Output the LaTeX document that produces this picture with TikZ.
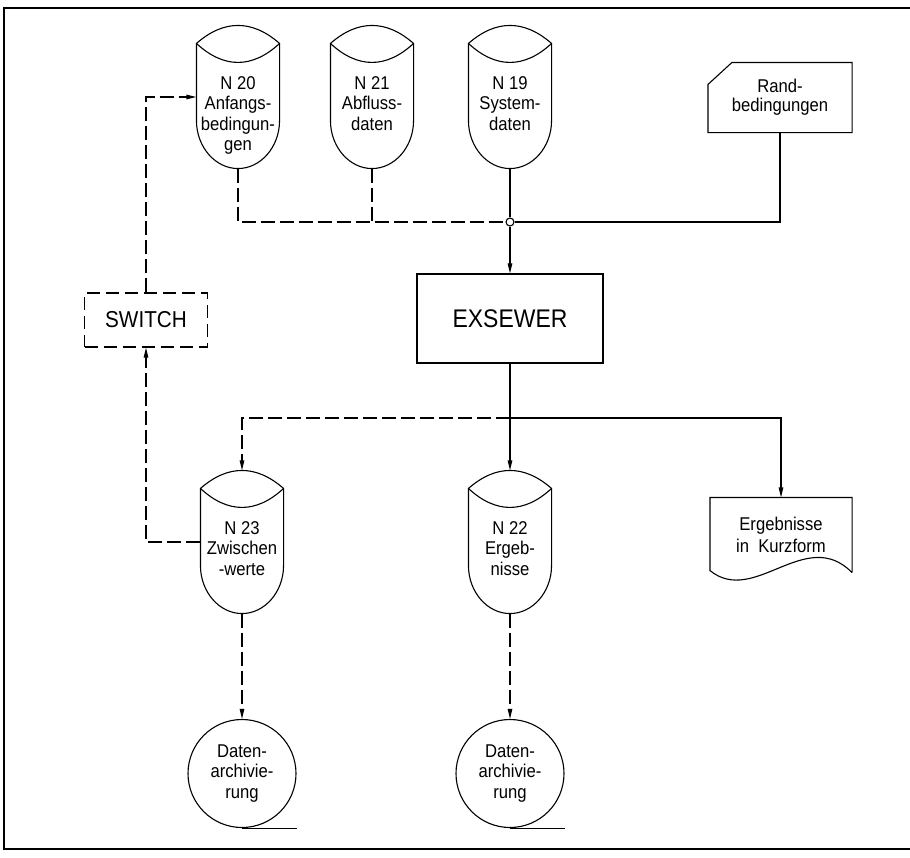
\documentclass[tikz,border=0pt]{standalone}
\usepackage{fontspec}
\setmainfont{Liberation Sans}[FakeStretch=0.9]
\usetikzlibrary{arrows.meta,calc}
\newcommand\drumshape[1]{%
  \draw ($(#1.north west)+(0,18)$) .. controls ($(#1.north west)+(27.3,-6)$) and ($(#1.north east)+(-27.3,-6)$) .. ($(#1.north east)+(0,18)$)
    -- ($(#1.south east)+(0,-48)$) .. controls ($(#1.south east)+(0,-21.5)$) and ($(#1.south)+(22.6,0)$) .. (#1.south)
    .. controls ($(#1.south)+(-22.6,0)$) and ($(#1.south west)+(0,-21.5)$) .. ($(#1.south west)+(0,-48)$) -- cycle;
  \draw ($(#1.north west)+(0,18)$) .. controls ($(#1.north west)+(27.3,43.3)$) and ($(#1.north east)+(-27.3,43.3)$) .. ($(#1.north east)+(0,18)$);
}
\tikzset{
  conn/.style={-{Triangle[length=10pt,width=4.5pt]}},
  dsh/.style={dash pattern=on 14pt off 5pt},
  boxdsh/.style={dash pattern=on 13pt off 6pt},
  drum/.style={rectangle, minimum width=82pt, minimum height=142pt, inner sep=0pt},
  lbl/.style={align=center, font=\fontsize{18.5}{20.5}\selectfont, inner sep=0pt},
  drumtext/.style={lbl, anchor=north},
  tape/.style={circle, draw, minimum size=108pt, inner sep=0pt, lbl},
}
\begin{document}
\begin{tikzpicture}[x=1pt,y=-1pt,line width=1.1pt]
\useasboundingbox (0,0) rectangle (910,857);
% frame
\draw[line width=1.7pt] (910,8) -- (4,8) -- (4,849) -- (910,849);

% drums top row
\node[drum] (n20) at (238,97) {};
\node[drum] (n21) at (372,97) {};
\node[drum] (n19) at (510,97) {};
\drumshape{n20}\drumshape{n21}\drumshape{n19}
\node[drumtext] (n20t) at (238,76) {N 20\\Anfangs-\\bedingun-\\gen};
\node[drumtext] (n21t) at (372,76) {N 21\\Abfluss-\\daten};
\node[drumtext] (n19t) at (510,76) {N 19\\System-\\daten};

% Randbedingungen card
\node[lbl, minimum width=143pt, minimum height=69pt, font=\fontsize{18.5}{19}\selectfont] (rand) at (780,97.5) {Rand-\\bedingungen};
\draw ($(rand.north west)+(24,0)$) -- (rand.north east) -- (rand.south east) -- (rand.south west) -- ($(rand.north west)+(0,22)$) -- cycle;

% junction
\node[circle, draw, fill=white, minimum size=8pt, inner sep=0pt] (junc) at (510,222) {};
\draw[dsh] (n20.south) |- (junc.west);
\draw[dsh] (n21.south) -- (n21.south |- junc.west);
\draw (n19.south) -- (junc.north);
\draw (rand.south) |- (junc.east);

% EXSEWER
\node[draw, minimum width=186pt, minimum height=89pt, inner sep=0pt, font=\fontsize{25.5}{28}\selectfont] (ex) at (510,318.5) {EXSEWER};
\draw[conn] (junc.south) -- (ex.north);

% SWITCH
\node[draw, boxdsh, minimum width=123pt, minimum height=54pt, inner sep=0pt, font=\fontsize{23}{26}\selectfont] (sw) at (146,320) {SWITCH};
\draw[conn, dsh] (sw.north) |- (n20.west);

% bottom drums
\node[drum] (n23) at (242,542) {};
\node[drum] (n22) at (510,542) {};
\drumshape{n23}\drumshape{n22}
\node[drumtext] (n23t) at (242,521) {N 23\\Zwischen\\-werte};
\node[drumtext] (n22t) at (510,521) {N 22\\Ergeb-\\nisse};

% printout
\node[lbl, minimum width=141pt, minimum height=74pt, font=\fontsize{18.5}{22}\selectfont] (prt) at (781,535) {Ergebnisse\\in\ \ Kurzform};
\draw (prt.south east) -- (prt.north east) -- (prt.north west) -- ($(prt.south west)+(0,-2)$)
  .. controls ($(prt.south west)+(44.5,34)$) and ($(prt.south east)+(-46.5,-47)$) .. (prt.south east);

% outputs
\coordinate (split) at (510,418);
\draw[conn] (ex.south) -- (n22.north);
\draw[conn, dsh] (split) -| (n23.north);
\draw[conn] (split) -| (prt.north);
\draw[conn, dsh] (n23.west) -| (sw.south);

% archives
\node[tape] (a1) at (242,773.5) {Daten-\\archivie-\\rung};
\node[tape] (a2) at (510,773.5) {Daten-\\archivie-\\rung};
\draw (a1.south) -- ++(55,0);
\draw (a2.south) -- ++(55,0);
\draw[conn, dsh] (n23.south) -- (a1.north);
\draw[conn, dsh] (n22.south) -- (a2.north);
\end{tikzpicture}
\end{document}
